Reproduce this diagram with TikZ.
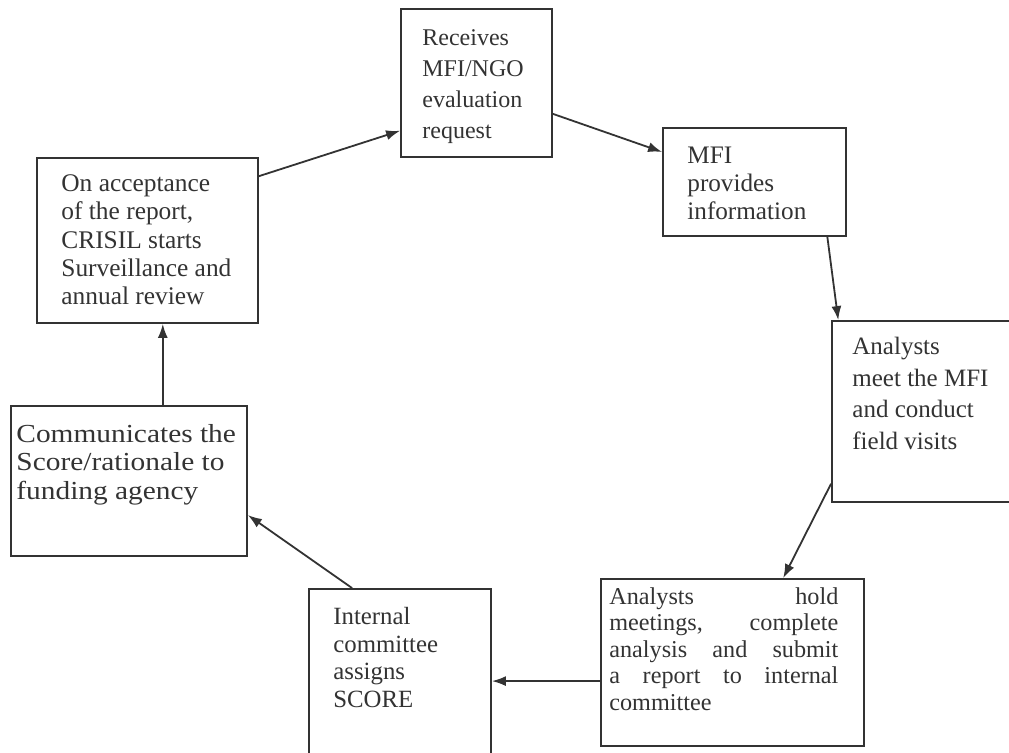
\documentclass[tikz,border=0pt]{standalone}
\usepackage{fontspec}
\setmainfont{Liberation Serif}
\usetikzlibrary{arrows.meta}

\newcommand\boxfont[2]{\fontsize{#1}{#2}\selectfont}

\begin{document}
\begin{tikzpicture}[x=0.5pt, y=-0.5pt,
  box/.style={draw=black!80, line width=0.9pt, inner sep=0pt},
  txt/.style={text=black!80, inner sep=0pt, align=left, anchor=north west},
  flow/.style={draw=black!80, line width=0.9pt, -{Latex[length=7pt,width=5pt]}}]
  \clip (0,0) rectangle (1009,753);
  % boxes
  \node[box, minimum width=75.5pt, minimum height=74pt] (req) at (476.5,83) {};
  \node[box, minimum width=91.5pt, minimum height=54pt] (info) at (754.5,182) {};
  \node[box, minimum width=91.5pt, minimum height=90.5pt] (visit) at (923.5,411.5) {};
  \node[box, minimum width=131.5pt, minimum height=83.5pt] (report) at (732.5,662.5) {};
  \node[box, minimum width=91pt, minimum height=85.5pt] (score) at (400,674.5) {};
  \node[box, minimum width=118pt, minimum height=75pt] (comm) at (129,481) {};
  \node[box, minimum width=110.5pt, minimum height=82.5pt] (review) at (147.5,240.5) {};
  % texts
  \node[txt, font=\boxfont{12}{15.5}] (reqtxt) at (422,29) {Receives\\MFI/NGO\\evaluation\\request};
  \node[txt, font=\boxfont{12.6}{14}] (infotxt) at (687,147) {MFI\\provides\\information};
  \node[txt, font=\boxfont{12.5}{15.8}] (visittxt) at (852,337) {Analysts\\meet the MFI\\and conduct\\field visits};
  \node[txt, font=\boxfont{12.1}{13.3}, align=justify, text width=114.5pt] (reporttxt) at (609,587)
    {Analysts hold\linebreak meetings, complete\linebreak analysis and submit\linebreak a report to internal\linebreak committee};
  \node[txt, font=\boxfont{12.4}{13.8}] (scoretxt) at (333,607) {Internal\\committee\\assigns\\SCORE};
  \node[txt, font=\boxfont{13}{14.2}, xscale=1.13, transform shape] (commtxt) at (16,424) {Communicates the\\Score/rationale to\\funding agency};
  \node[txt, font=\boxfont{12.7}{14.2}] (reviewtxt) at (61,174) {On acceptance\\of the report,\\CRISIL starts\\Surveillance and\\annual review};
  % arrows
  \draw[flow] (review.30) -- (req.212);
  \draw[flow] (req.-22) -- (info.162);
  \draw[flow] (info.-37) -- (visit.133);
  \draw[flow] (visit.218) -- (report.59);
  \draw[flow] (report.188) -- (report.188 -| score.east);
  \draw[flow] (score.119) -- (comm.-16);
  \draw[flow] (comm.66) -- (comm.66 |- review.south);
\end{tikzpicture}
\end{document}
